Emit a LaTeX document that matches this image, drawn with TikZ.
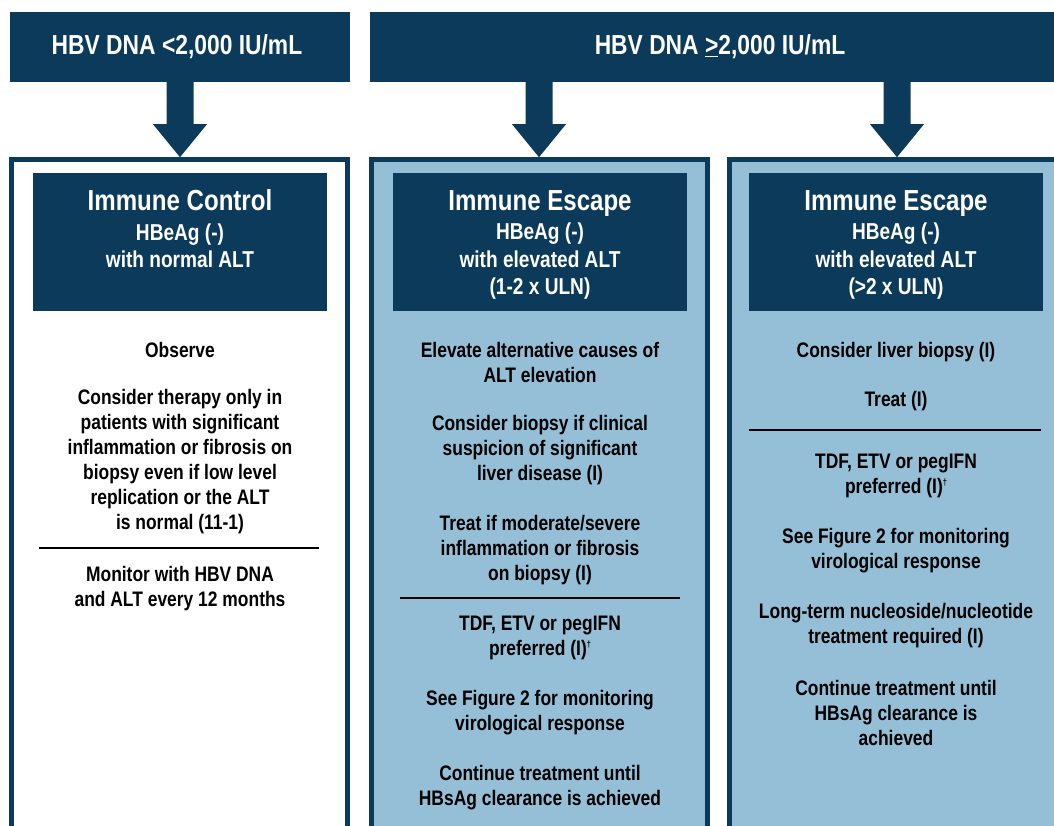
\documentclass[tikz,border=0pt]{standalone}
\usepackage{fontspec}
\setmainfont{Liberation Sans}[FakeStretch=0.83]
\usetikzlibrary{calc}
\definecolor{navy}{RGB}{11,58,90}
\definecolor{lblue}{RGB}{148,191,215}
\begin{document}
\begin{tikzpicture}[x=1pt,y=-1pt,
  hdr/.style={fill=navy,draw=none,inner sep=0pt},
  dnatext/.style={text=white,font=\bfseries\fontsize{27.5}{30}\selectfont},
  ttl/.style={text=white,font=\bfseries\fontsize{29}{32}\selectfont,inner sep=0pt,text height=21pt,text depth=0pt},
  sub/.style={text=white,font=\bfseries\fontsize{23}{27.5}\selectfont,align=center,inner sep=0pt},
  body/.style={text=black,font=\bfseries\fontsize{21}{25}\selectfont,align=center,inner sep=0pt},
  one/.style={text height=15.5pt,text depth=0pt},
  hrule/.style={line width=2pt,black},
  col/.style={draw=navy,line width=5pt},
  barrow/.pic={\fill[navy] (-13.5,0) -- (13.5,0) -- (13.5,42) -- (27,42) -- (0,75) -- (-27,42) -- (-13.5,42) -- cycle;}
]
\useasboundingbox (0,0) rectangle (1054,825);
\clip (0,0) rectangle (1054,825);

% DNA headers
\node[hdr,minimum width=340pt,minimum height=70pt] (hL) at (180,47) {};
\node[hdr,minimum width=690pt,minimum height=70pt] (hR) at (715,47) {};
\node[dnatext] (tL) at (177,47) {HBV DNA <2,000 IU/mL};
\node[dnatext] (tR) at (720,47) {HBV DNA \underline{>}2,000 IU/mL};

% columns
\draw[col,fill=white] (11.5,159.5) rectangle (347.5,845);
\draw[col,fill=lblue] (371.5,159.5) rectangle (707.5,845);
\draw[col,fill=lblue] (729.5,159.5) rectangle (1065,845);
\coordinate (c1) at (180,157);
\coordinate (c2) at (539,157);
\coordinate (c3) at (897,157);

% block arrows
\pic at (hL.south -| c1) {barrow};
\pic at (hR.south -| c2) {barrow};
\pic at (hR.south -| c3) {barrow};

% inner headers
\node[hdr,minimum width=294pt,minimum height=138pt] (ih1) at (180,242) {};
\node[hdr,minimum width=294pt,minimum height=138pt] (ih2) at (540,242) {};
\node[hdr,minimum width=294pt,minimum height=138pt] (ih3) at (896,242) {};
\node[ttl] (t1) at (180,200) {Immune Control};
\node[ttl] (t2) at (540,200) {Immune Escape};
\node[ttl] (t3) at (896,200) {Immune Escape};
\node[sub] (s1) at (180,246) {HBeAg (-)\\with normal ALT};
\node[sub] (s2) at (540,261.5) {HBeAg (-)\\with elevated ALT\\(1-2 x ULN)};
\node[sub] (s3) at (896,261.5) {HBeAg (-)\\with elevated ALT\\(>2 x ULN)};

% column 1
\node[body,one] (a1) at (180,350) {Observe};
\node[body] (a2) at (180,461.5) {Consider therapy only in\\patients with significant\\inflammation or fibrosis on\\biopsy even if low level\\replication or the ALT\\is normal (11-1)};
\coordinate (r1a) at (39,548); \coordinate (r1b) at (319,548);
\draw[hrule] (r1a) -- (r1b);
\node[body] (a3) at (180,588.5) {Monitor with HBV DNA\\and ALT every 12 months};

% column 2
\node[body] (b1) at (540,362) {Elevate alternative causes of\\ALT elevation};
\node[body] (b2) at (540,450) {Consider biopsy if clinical\\suspicion of significant\\liver disease (I)};
\node[body] (b3) at (540,550) {Treat if moderate/severe\\inflammation or fibrosis\\on biopsy (I)};
\coordinate (r2a) at (400,598); \coordinate (r2b) at (680,598);
\draw[hrule] (r2a) -- (r2b);
\node[body] (b4) at (540,638) {TDF, ETV or pegIFN\\preferred (I)\raisebox{0.75ex}{\fontsize{9}{9}\selectfont †}};
\node[body] (b5) at (540,712.5) {See Figure 2 for monitoring\\virological response};
\node[body] (b6) at (540,787.5) {Continue treatment until\\HBsAg clearance is achieved};

% column 3
\node[body,one] (d1) at (896,350) {Consider liver biopsy (I)};
\node[body,one] (d2) at (896,399) {Treat (I)};
\coordinate (r3a) at (749,430); \coordinate (r3b) at (1041,430);
\draw[hrule] (r3a) -- (r3b);
\node[body] (d3) at (896,476) {TDF, ETV or pegIFN\\preferred (I)\raisebox{0.75ex}{\fontsize{9}{9}\selectfont †}};
\node[body] (d4) at (896,550.5) {See Figure 2 for monitoring\\virological response};
\node[body] (d5) at (896,625.5) {Long-term nucleoside/nucleotide\\treatment required (I)};
\node[body] (d6) at (896,713) {Continue treatment until\\HBsAg clearance is\\achieved};
\end{tikzpicture}
\end{document}
